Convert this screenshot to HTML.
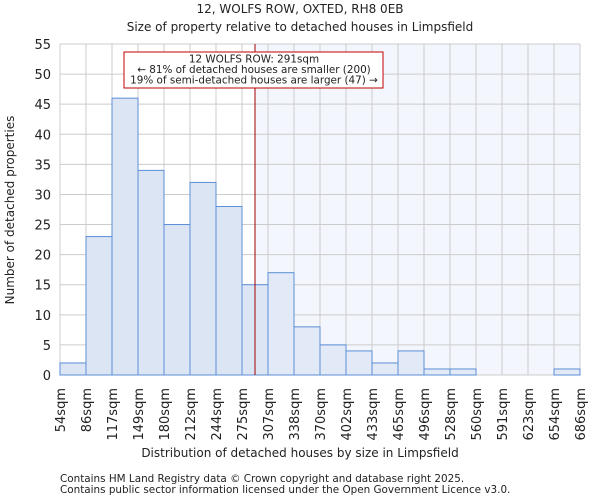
<!DOCTYPE html>
<html><head><meta charset="utf-8"><style>
body{margin:0;background:#fff;font-family:"DejaVu Sans","Liberation Sans",sans-serif}
svg text{font-family:"DejaVu Sans","Liberation Sans",sans-serif;fill:#222}
</style></head><body>
<svg id="c" width="600" height="500" xmlns="http://www.w3.org/2000/svg">
<text x="300" y="13" text-anchor="middle" font-size="12">12, WOLFS ROW, OXTED, RH8 0EB</text>
<text x="300" y="31" text-anchor="middle" font-size="12">Size of property relative to detached houses in Limpsfield</text>
<g id="g"></g>
<text x="300" y="457" text-anchor="middle" font-size="12">Distribution of detached houses by size in Limpsfield</text>
<text transform="translate(14,210) rotate(-90)" text-anchor="middle" font-size="12">Number of detached properties</text>
<text x="60" y="482" font-size="10.4">Contains HM Land Registry data © Crown copyright and database right 2025.</text>
<text x="60" y="493" font-size="10.4">Contains public sector information licensed under the Open Government Licence v3.0.</text>
</svg>
<script>
const categories=["54sqm","86sqm","117sqm","149sqm","180sqm","212sqm","244sqm","275sqm","307sqm","338sqm","370sqm","402sqm","433sqm","465sqm","496sqm","528sqm","560sqm","591sqm","623sqm","654sqm","686sqm"];
const values=[2,23,46,34,25,32,28,15,17,8,5,4,2,4,1,1,0,0,0,1];
const yTicks=[0,5,10,15,20,25,30,35,40,45,50,55];
const binStart=54, binWidth=31.6, marker=291;
const L=60,R=580,T=44,B=375,yMax=55;
const bw=(R-L)/values.length;
const x=v=>L+(v-binStart)/binWidth*bw;
const y=v=>B-(v/yMax)*(B-T);
const g=document.getElementById('g');
const NS='http://www.w3.org/2000/svg';
function mk(t,a){const e=document.createElementNS(NS,t);for(const k in a)e.setAttribute(k,a[k]);g.appendChild(e);return e;}
let e=mk('rect',{x:x(marker),y:T,width:R-x(marker),height:B-T,fill:'#f4f6fd'});


yTicks.forEach(t=>{
 let l=mk('line',{x1:L,x2:R,y1:y(t),y2:y(t),stroke:'#cccccc','stroke-width':1});
 
 
 let tx=mk('text',{x:L-9,y:y(t)+5,'text-anchor':'end','font-size':'13'});tx.textContent=t;
 
 
});
categories.forEach((c,i)=>{
 const xx=L+i*bw;
 let l=mk('line',{x1:xx,x2:xx,y1:T,y2:B,stroke:'#cccccc','stroke-width':1});
 
 
 let tx=mk('text',{transform:`translate(${xx+5},388) rotate(-90)`,'text-anchor':'end','font-size':'13'});tx.textContent=c;
 
 
});
values.forEach((v,i)=>{
 const xx=L+i*bw;
 let r=mk('rect',{x:xx,y:y(v),width:bw,height:B-y(v),fill:xx<x(marker)?'#dce5f4':'#e3eaf7',stroke:'#5b8ed6','stroke-width':1});
 
 
});
let ml=mk('line',{x1:x(marker),x2:x(marker),y1:T,y2:B,stroke:'#a00000','stroke-width':1});


let box=mk('rect',{x:124,y:52,width:259,height:36,fill:'#fff',stroke:'#c00000','stroke-width':1});


["12 WOLFS ROW: 291sqm","← 81% of detached houses are smaller (200)","19% of semi-detached houses are larger (47) →"].forEach((s,i)=>{
 let t=mk('text',{x:254,y:62.5+i*10.5,'text-anchor':'middle','font-size':'10.4'});t.textContent=s;
 
 
});
</script>
</body></html>
